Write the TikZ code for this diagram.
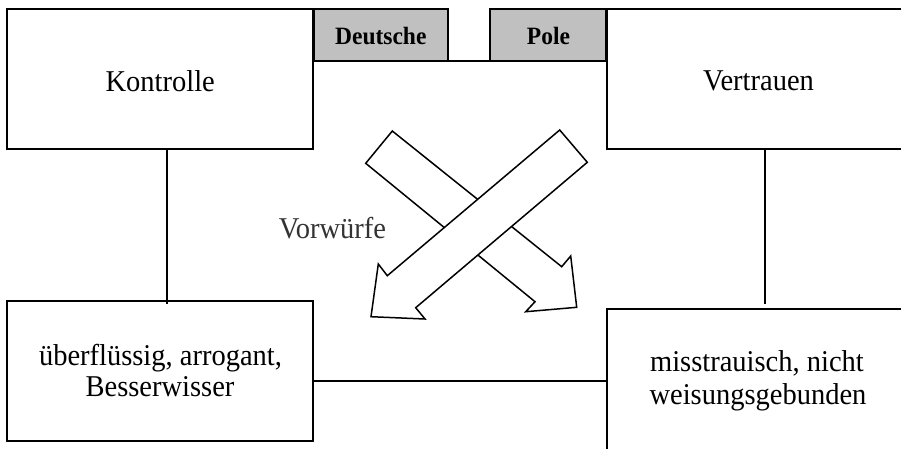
\documentclass[tikz,border=0pt]{standalone}
\usepackage{fontspec}
\usepackage{graphicx}
\setmainfont{Liberation Serif}
\newcommand{\tallText}[1]{\scalebox{1}[1.06]{#1}}
\begin{document}
\begin{tikzpicture}[x=1pt,y=-1pt,
  box/.style={draw=black, line width=1.8pt, inner sep=0pt, outer sep=0pt, fill=white},
  greybox/.style={box, fill=boxgrey},
  conn/.style={draw=black, line width=1.8pt},
  txt/.style={inner sep=0pt, outer sep=0pt, anchor=base, font=\fontsize{28.5}{32}\selectfont},
  btxt/.style={inner sep=0pt, outer sep=0pt, anchor=base, font=\fontsize{23.5}{26}\selectfont\bfseries},
  bigarrow/.style={draw=black, line width=1.5pt, fill=white, line join=miter}]
\definecolor{boxgrey}{HTML}{C0C0C0}
\useasboundingbox (0,0) rectangle (901,448);
\clip (0,0) rectangle (901,448);

% boxes
\node[box, minimum width=306.6pt, minimum height=140pt] (kon) at (160,79.3) {};
\node[greybox, minimum width=134.3pt, minimum height=52pt] (deu) at (381.15,35.3) {};
\node[greybox, minimum width=115.7pt, minimum height=52pt] (pol) at (548.15,35.3) {};
\node[box, minimum width=303.3pt, minimum height=140pt] (ver) at (758.35,79.3) {};
\node[box, minimum width=306.6pt, minimum height=140.3pt] (lb) at (160,370.85) {};
\node[box, minimum width=301.3pt, minimum height=160.7pt] (rb) at (757.35,389.65) {};

% texts
\node[txt] (tkon) at (160.2,91.7) {\tallText{Kontrolle}};
\node[btxt] (tdeu) at (380.8,44) {\tallText{Deutsche}};
\node[btxt] (tpol) at (548.5,44) {\tallText{Pole}};
\node[txt] (tver) at (758.5,90) {\tallText{Vertrauen}};
\node[txt, text=black!80] (tvor) at (332.5,238.3) {\tallText{Vorwürfe}};
\node[txt] (tlb1) at (160.5,365) {\tallText{überflüssig, arrogant,}};
\node[txt] (tlb2) at (160,396.7) {\tallText{Besserwisser}};
\node[txt] (trb1) at (757,371.7) {\tallText{misstrauisch, nicht}};
\node[txt] (trb2) at (758,404.3) {\tallText{weisungsgebunden}};

% connectors
\draw[conn] (deu.south east) -- (pol.south west);
\draw[conn] ([xshift=7.3pt]kon.south) -- ([xshift=7.3pt,yshift=-3.3pt]lb.north);
\coordinate (rend) at (765,304.3);
\draw[conn] (ver.south -| rend) -- (rend);
\coordinate (hstart) at ([yshift=-10.3pt]lb.east);
\draw[conn] (hstart) -- (hstart -| rb.west);

% crossing arrows
\path[bigarrow] (392.3,131) -- (365.7,163.3) -- (535,301.7) -- (525.7,311.7)
  -- (576.7,307.3) -- (570.7,256) -- (561.7,266.7) -- cycle;
\path[bigarrow] (559.7,130) -- (587.3,162.3) -- (415.7,307.7) -- (425,319)
  -- (371,316.7) -- (378.3,264) -- (387.3,275.7) -- cycle;
\end{tikzpicture}
\end{document}
